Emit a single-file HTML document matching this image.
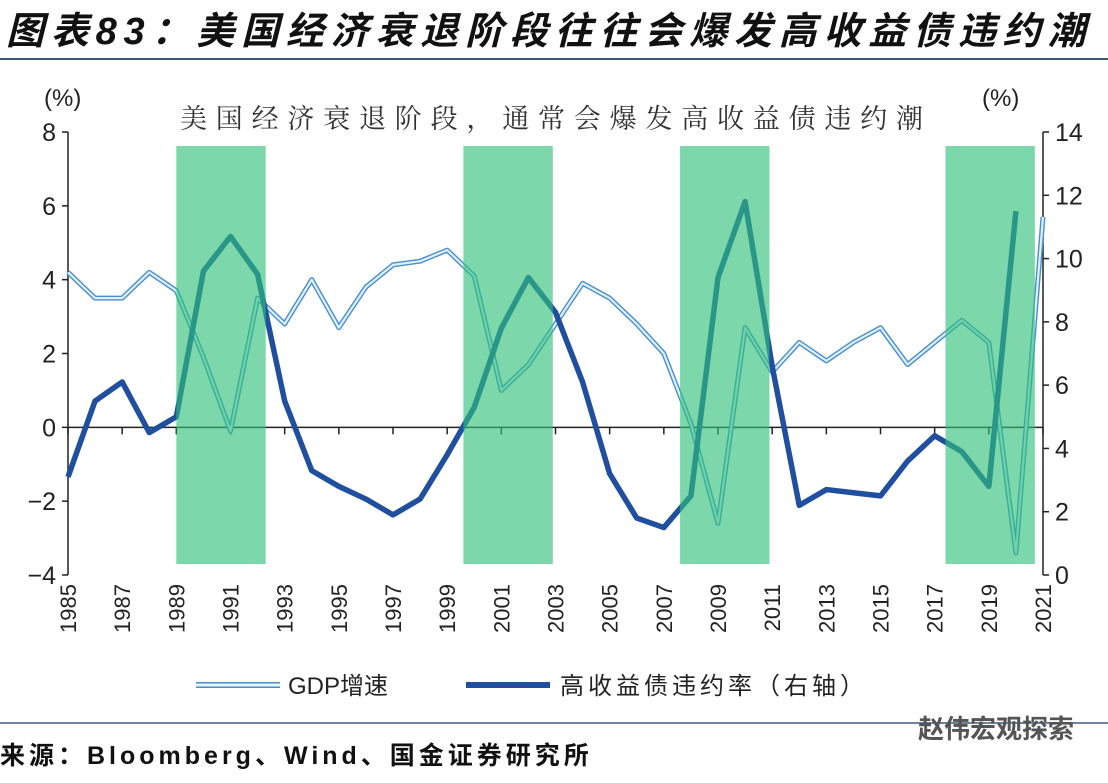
<!DOCTYPE html>
<html><head><meta charset="utf-8"><style>
body{margin:0;background:#fff;width:1108px;height:778px;overflow:hidden;font-family:"Liberation Sans","Noto Sans CJK SC",sans-serif}
</style></head><body>
<svg id="chart" width="1108" height="778" xmlns="http://www.w3.org/2000/svg">
<text x="6" y="44" font-size="38" font-weight="bold" font-style="italic" fill="#111" letter-spacing="6.8" font-family="Liberation Sans, Noto Sans CJK SC, sans-serif">图表83：美国经济衰退阶段往往会爆发高收益债违约潮</text>
<line x1="0" y1="59" x2="1108" y2="59" stroke="#3a5a7a" stroke-width="2"/>
<text x="180" y="128" font-size="27" fill="#333" font-family="Noto Serif CJK SC, serif" letter-spacing="8.8">美国经济衰退阶段，通常会爆发高收益债违约潮</text>
<text x="44" y="106" font-size="24" fill="#222">(%)</text>
<text x="982" y="106" font-size="24" fill="#222">(%)</text>
<g id="plot"></g>
<g id="legend">
<line x1="196" y1="685" x2="280" y2="685" stroke="#4a8fcc" stroke-width="6"/>
<line x1="196" y1="685" x2="280" y2="685" stroke="#e8f4fc" stroke-width="3"/>
<text x="288" y="694" font-size="24" fill="#222">GDP增速</text>
<line x1="466" y1="685" x2="550" y2="685" stroke="#1f4f9e" stroke-width="6"/>
<text x="560" y="694" font-size="24" fill="#222" letter-spacing="4">高收益债违约率（右轴）</text>
</g>
<line x1="0" y1="723" x2="1108" y2="723" stroke="#3a5a7a" stroke-width="1.5"/>
<text x="918" y="738" font-size="26" fill="#555" font-weight="bold">赵伟宏观探索</text>
<text x="0" y="764" font-size="25" fill="#111" font-weight="bold" letter-spacing="4">来源：Bloomberg、Wind、国金证券研究所</text>
</svg>
<script>
const years=[1985,1986,1987,1988,1989,1990,1991,1992,1993,1994,1995,1996,1997,1998,1999,2000,2001,2002,2003,2004,2005,2006,2007,2008,2009,2010,2011,2012,2013,2014,2015,2016,2017,2018,2019,2020,2021];
const gdp=[4.2,3.5,3.5,4.2,3.7,1.9,-0.1,3.5,2.8,4.0,2.7,3.8,4.4,4.5,4.8,4.1,1.0,1.7,2.8,3.9,3.5,2.8,2.0,0.1,-2.6,2.7,1.5,2.3,1.8,2.3,2.7,1.7,2.3,2.9,2.3,-3.4,5.7];
const defaultRate=[3.1,5.5,6.1,4.5,5.0,9.6,10.7,9.5,5.5,3.3,2.8,2.4,1.9,2.4,3.8,5.3,7.8,9.4,8.3,6.1,3.2,1.8,1.5,2.5,9.4,11.8,6.6,2.2,2.7,2.6,2.5,3.6,4.4,3.9,2.8,11.5];
const recessions=[[1989.0,1992.3],[1999.6,2002.9],[2007.6,2010.9],[2017.4,2020.7]];
const leftTicks=[8,6,4,2,0,-2,-4];
const rightTicks=[14,12,10,8,6,4,2,0];
const xLabels=[1985,1987,1989,1991,1993,1995,1997,1999,2001,2003,2005,2007,2009,2011,2013,2015,2017,2019,2021];
const NS="http://www.w3.org/2000/svg";
const X0=68,X1=1043,YT=132,YB=575;
const x=yr=>X0+(yr-1985)*(X1-X0)/36;
const yL=v=>YB-(v+4)*(YB-YT)/12;
const yR=v=>YB-v*(YB-YT)/14;
const plot=document.getElementById('plot');
function mk(t,a){const e=document.createElementNS(NS,t);for(const k in a)e.setAttribute(k,a[k]);plot.appendChild(e);return e;}
let e=mk('line',{x1:X0,y1:YT,x2:X0,y2:YB,stroke:'#222','stroke-width':1.5});


e=mk('line',{x1:X1,y1:YT,x2:X1,y2:YB,stroke:'#222','stroke-width':1.5});


e=mk('line',{x1:X0,y1:yL(0),x2:X1,y2:yL(0),stroke:'#222','stroke-width':1.5});


leftTicks.forEach(v=>{mk('line',{x1:X0-6,y1:yL(v),x2:X0,y2:yL(v),stroke:'#222','stroke-width':1.5});
const t=mk('text',{x:X0-12,y:yL(v)+9,'font-size':25,'text-anchor':'end',fill:'#222'});t.textContent=v<0?'−'+(-v):v;

});
rightTicks.forEach(v=>{mk('line',{x1:X1,y1:yR(v),x2:X1+6,y2:yR(v),stroke:'#222','stroke-width':1.5});
const t=mk('text',{x:X1+12,y:yR(v)+9,'font-size':25,fill:'#222'});t.textContent=v;

});
xLabels.forEach(yr=>{mk('line',{x1:x(yr),y1:yL(0),x2:x(yr),y2:yL(0)+7,stroke:'#222','stroke-width':1.5});
const t=mk('text',{x:0,y:0,'font-size':22,fill:'#222','text-anchor':'end',transform:`translate(${x(yr)+8},584) rotate(-90)`});t.textContent=yr;

});
const gp=gdp.map((v,i)=>x(years[i])+','+yL(v)).join(' ');
e=mk('polyline',{points:gp,fill:'none',stroke:'#4a8fcc','stroke-width':5,'stroke-linejoin':'round'});


e=mk('polyline',{points:gp,fill:'none',stroke:'#dff0fb','stroke-width':2.2,'stroke-linejoin':'round'});


const dp=defaultRate.map((v,i)=>x(years[i])+','+yR(v)).join(' ');
e=mk('polyline',{points:dp,fill:'none',stroke:'#1f4f9e','stroke-width':5.5,'stroke-linejoin':'round'});


recessions.forEach(r=>{const s=mk('rect',{x:x(r[0]),y:146,width:x(r[1])-x(r[0]),height:418,fill:'#2fc07a','fill-opacity':0.63});

});
</script>
</body></html>
